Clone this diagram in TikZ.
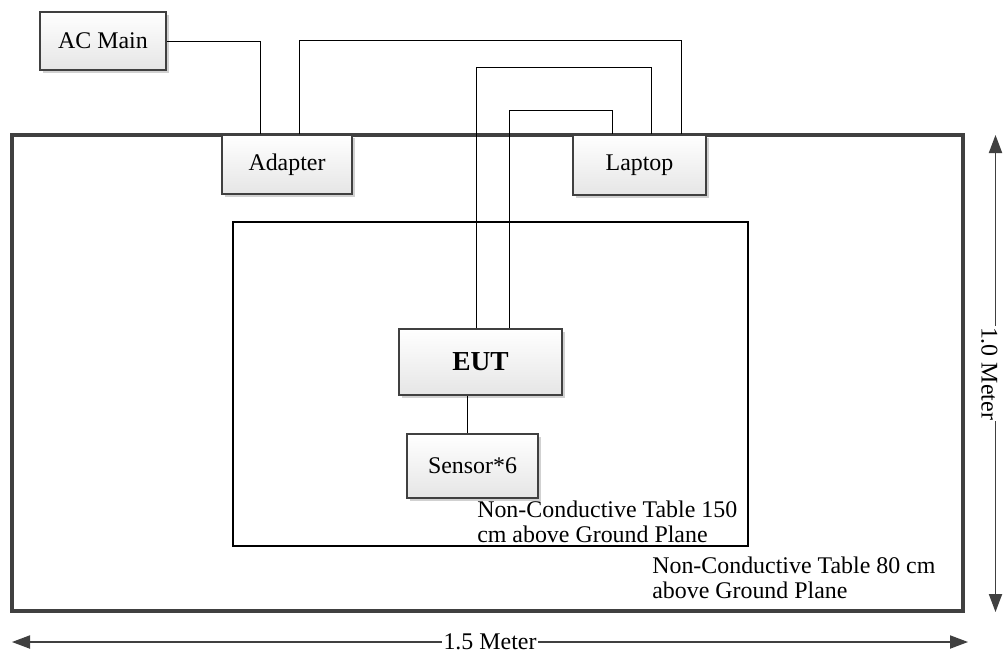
\documentclass[tikz,border=0pt]{standalone}
\usepackage{fontspec}
\setmainfont{Liberation Serif}
\usetikzlibrary{calc,arrows.meta,shadows}
\definecolor{edgegray}{HTML}{404040}
\begin{document}
\begin{tikzpicture}[x=0.025cm,y=-0.025cm,
        unit/.style={draw=edgegray,line width=1.4pt,top color=white,bottom color=black!10,
            drop shadow={shadow xshift=0.07cm,shadow yshift=-0.07cm,fill=black!18,opacity=1},
            font=\fontsize{17}{18}\selectfont,inner sep=0pt},
        wire/.style={line width=0.6pt},
        measure/.style={draw=edgegray,line width=0.9pt,
            {Triangle[length=0.45cm,width=0.33cm]}-{Triangle[length=0.45cm,width=0.33cm]}},
        note/.style={font=\fontsize{17}{17.7}\selectfont,align=left,inner sep=0pt}]
    \useasboundingbox (0,0) rectangle (1006,654);
    \draw[edgegray,line width=2.3pt] (12,135) rectangle (963,611);
    \draw[line width=0.9pt] (233,222) rectangle (748,546);
    \node[unit,minimum width=3.15cm,minimum height=1.45cm] (acmain) at (103,41) {AC Main};
    \node[unit,minimum width=3.25cm,minimum height=1.475cm] (adapter) at (287,164.5) {Adapter};
    \node[unit,minimum width=3.325cm,minimum height=1.5cm] (laptop) at (639.5,165) {Laptop};
    \node[unit,minimum width=4.075cm,minimum height=1.65cm,font=\fontsize{19.5}{22}\selectfont\bfseries] (eut) at (480.5,362) {EUT};
    \node[unit,minimum width=3.275cm,minimum height=1.6cm] (sensor) at (472.5,466) {Sensor*6};
    % cables
    \draw[wire] (acmain.east) -| ($(adapter.north)+(-27,0)$);
    \draw[wire] ($(adapter.north)+(12,0)$) |- ($(laptop.north)+(41.5,-94)$) -- ($(laptop.north)+(41.5,0)$);
    \draw[wire] ($(eut.north)+(-4.5,0)$) -- ++(0,-261) -| ($(laptop.north)+(11.5,0)$);
    \draw[wire] ($(eut.north)+(28.5,0)$) -- ++(0,-218) -| ($(laptop.north)+(-27.5,0)$);
    \draw[wire] ($(eut.south)+(-13.5,0)$) -- ($(sensor.north)+(-5.5,0)$);
    \node[note,anchor=base west] (tablehigh) at (477,542) {Non-Conductive Table 150\\cm above Ground Plane};
    \node[note,anchor=base west] (tablelow) at (652,598) {Non-Conductive Table 80 cm\\above Ground Plane};
    % dimensions
    \coordinate (wl) at (12,642);
    \coordinate (wr) at (968,642);
    \coordinate (ht) at (995.5,135);
    \coordinate (hb) at (995.5,612);
    \draw[measure] (wl) -- (wr) node[midway,fill=white,inner sep=1pt,font=\fontsize{17}{18}\selectfont] (wlabel) {1.5 Meter};
    \draw[measure] (ht) -- (hb);
    \node[fill=white,inner sep=1pt,rotate=-90,font=\fontsize{17}{18}\selectfont] (hlabel) at ($(ht)!0.5!(hb)+(-6,0)$) {1.0 Meter};
\end{tikzpicture}
\end{document}
